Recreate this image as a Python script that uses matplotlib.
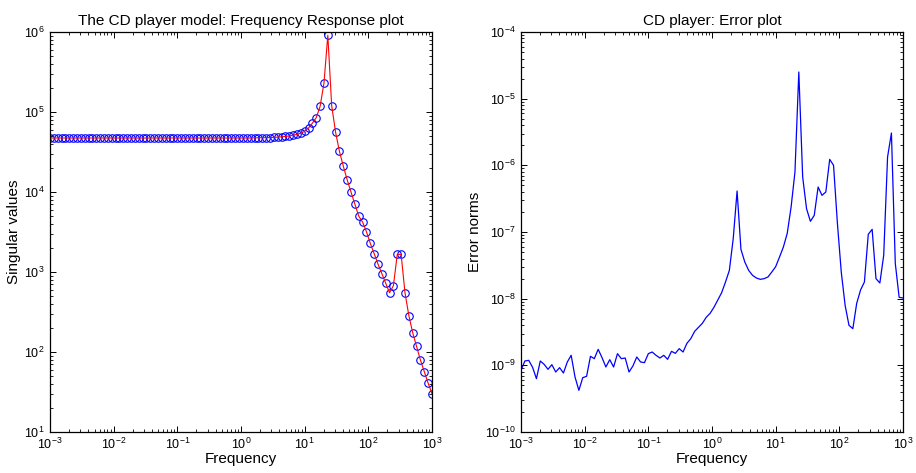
import numpy as np
import matplotlib
matplotlib.use("Agg")
import matplotlib.pyplot as plt
from matplotlib.ticker import FixedLocator, NullFormatter

plt.rcParams['font.family'] = ['Liberation Sans', 'DejaVu Sans']
plt.rcParams['mathtext.fontset'] = 'custom'
plt.rcParams['mathtext.rm'] = 'Liberation Sans'
plt.rcParams['mathtext.it'] = 'Liberation Sans:italic'

# Frequency grid (100 log-spaced points, 1e-3 .. 1e3)
freq = np.logspace(-3, 3, 100)

# Tick decades
x_decades = [-3, -2, -1, 0, 1, 2, 3]
y1_decades = [1, 2, 3, 4, 5, 6]
y2_decades = [-10, -9, -8, -7, -6, -5, -4]

# Singular values (log10)
sv_log10 = [4.675] * 53 + [
    4.677, 4.678, 4.679, 4.680, 4.681, 4.683, 4.686,
    4.690, 4.695, 4.700, 4.710, 4.720, 4.735, 4.760, 4.800, 4.860, 4.930,
    5.070, 5.360, 5.960, 5.080, 4.750, 4.510, 4.325, 4.155, 4.000, 3.850,
    3.700, 3.625, 3.505, 3.360, 3.230, 3.100, 2.980, 2.860, 2.740, 2.830,
    3.220, 3.220, 2.740, 2.455, 2.240, 2.070, 1.900, 1.755, 1.610, 1.480]
sing_vals = 10.0 ** np.array(sv_log10)

# Error norms (log10)
err_log10 = [
    -9.075, -8.935, -8.925, -9.030, -9.200, -8.935, -8.985, -9.060, -8.990, -9.100,
    -9.035, -9.115, -8.950, -8.850, -9.175, -9.375, -9.185, -9.165, -8.865, -8.900,
    -8.760, -8.885, -9.025, -8.915, -9.025, -8.825, -8.900, -8.890, -9.100, -9.010,
    -8.875, -8.950, -8.960, -8.825, -8.800, -8.850, -8.890, -8.850, -8.910, -8.790,
    -8.820, -8.750, -8.800, -8.670, -8.600, -8.490, -8.430, -8.370, -8.280, -8.220,
    -8.130, -8.020, -7.910, -7.750, -7.575, -7.100, -6.385, -7.260, -7.450, -7.575,
    -7.650, -7.690, -7.710, -7.700, -7.675, -7.600, -7.520, -7.375, -7.225, -7.020,
    -6.625, -6.100, -4.600, -6.175, -6.650, -6.840, -6.750, -6.325, -6.450, -6.400,
    -5.910, -6.000, -6.870, -7.600, -8.100, -8.400, -8.450, -8.070, -7.870, -7.750,
    -7.035, -6.960, -7.700, -7.765, -7.350, -5.875, -5.515, -7.470, -7.980, -7.990]
err_norms = 10.0 ** np.array(err_log10)


def set_log_ticks(axis, decades):
    major = [10.0 ** d for d in decades]
    minor = [m * 10.0 ** d for d in decades[:-1] for m in range(2, 10)]
    axis.set_major_locator(FixedLocator(major))
    axis.set_minor_locator(FixedLocator(minor))
    axis.set_minor_formatter(NullFormatter())
    axis.set_ticklabels([r'$\mathdefault{10^{%d}}$' % d for d in decades])


fig = plt.figure(figsize=(9.16, 4.73), dpi=100)
ax1 = fig.add_axes([50/916, 41/473, 382/916, 400/473])
ax2 = fig.add_axes([521/916, 41/473, 382/916, 400/473])

ax1.plot(freq, sing_vals, 'o', mfc='none', mec='#0000ff', ms=5.4, mew=0.8)
ax1.plot(freq, sing_vals, '-', color='#ff0000', lw=0.8)
ax1.set_xscale('log'); ax1.set_yscale('log')
ax1.set_xlim(1e-3, 1e3); ax1.set_ylim(1e1, 1e6)
ax1.set_title('The CD player model: Frequency Response plot', fontsize=11, pad=5)
ax1.set_xlabel('Frequency', fontsize=11, labelpad=0)
ax1.set_ylabel('Singular values', fontsize=11, labelpad=2)
set_log_ticks(ax1.xaxis, x_decades)
set_log_ticks(ax1.yaxis, y1_decades)

ax2.plot(freq, err_norms, '-', color='#0000ff', lw=0.9)
ax2.set_xscale('log'); ax2.set_yscale('log')
ax2.set_xlim(1e-3, 1e3); ax2.set_ylim(1e-10, 1e-4)
ax2.set_title('CD player: Error plot', fontsize=11, pad=5)
ax2.set_xlabel('Frequency', fontsize=11, labelpad=0)
ax2.set_ylabel('Error norms', fontsize=11, labelpad=2)
set_log_ticks(ax2.xaxis, x_decades)
set_log_ticks(ax2.yaxis, y2_decades)

for ax in (ax1, ax2):
    for sp in ax.spines.values():
        sp.set_linewidth(0.9)
    ax.tick_params(which='both', direction='in', top=True, right=True, labelsize=9)
    ax.tick_params(which='major', length=4, width=0.7)
    ax.tick_params(which='minor', length=2, width=0.6)
    ax.tick_params(axis='y', which='major', pad=4)

fig.savefig('out.png', dpi=100)
